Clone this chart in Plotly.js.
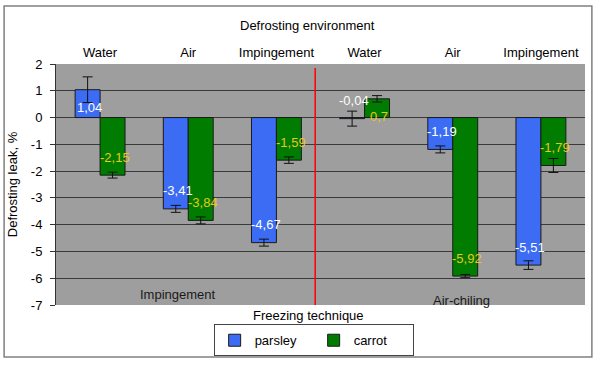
<!DOCTYPE html>
<html><head><meta charset="utf-8">
<script src="https://cdn.plot.ly/plotly-3.0.1.min.js"></script>
<style>html,body{margin:0;padding:0;background:#fff}#c{width:600px;height:366px}</style>
</head><body><div id="c"></div>
<script>
var categories = ["Water", "Air", "Impingement", "Water", "Air", "Impingement"];
var positions = [0, 1, 2, 3, 4, 5];
var parsley = [1.04, -3.41, -4.67, -0.04, -1.19, -5.51];
var carrot = [-2.15, -3.84, -1.59, 0.7, -5.92, -1.79];
var parsleyErr = [0.48, 0.13, 0.13, 0.28, 0.13, 0.16];
var carrotErr = [0.11, 0.13, 0.12, 0.12, 0.06, 0.26];
var yTicks = [2, 1, 0, -1, -2, -3, -4, -5, -6, -7];
var freezingGroups = ["Impingement", "Air-chiling"];

var bargap = 0.434;
var half = (1 - bargap) / 4;

function fmt(v){ return String(v).replace('.', ','); }

var traces = [
  {type:'bar', name:'parsley', x:positions, y:parsley,
   marker:{color:'#3c6cf4', line:{color:'#1a1a1a', width:1}},
   error_y:{type:'data', array:parsleyErr, visible:true, color:'#111', thickness:1, width:5},
   hoverinfo:'none'},
  {type:'bar', name:'carrot', x:positions, y:carrot,
   marker:{color:'#007c00', line:{color:'#1a1a1a', width:1}},
   error_y:{type:'data', array:carrotErr, visible:true, color:'#111', thickness:1, width:5},
   hoverinfo:'none'}
];

var annotations = [];
function addLabels(vals, off, color){
  vals.forEach(function(v,i){
    annotations.push({x:positions[i]+off, y:v, xref:'x', yref:'y', text:fmt(v),
      showarrow:false, xshift:2, yshift: v < 0 ? 18 : -18,
      font:{family:'Liberation Sans, Arial', size:13, color:color}});
  });
}
addLabels(parsley, -half, '#ffffff');
addLabels(carrot, half, '#e8c81a');

annotations.push({xref:'paper', yref:'paper', x:0.475, y:1.2, text:'Defrosting environment', showarrow:false,
  font:{family:'Liberation Sans, Arial', size:13, color:'#000'}});
annotations.push({xref:'paper', yref:'paper', x:0.477, y:-0.003, yanchor:'top', text:'Freezing technique', showarrow:false,
  font:{family:'Liberation Sans, Arial', size:13, color:'#000'}});
annotations.push({xref:'x', yref:'y', x:1, y:-6.6, text:freezingGroups[0], showarrow:false, xshift:-10,
  font:{family:'Liberation Sans, Arial', size:13, color:'#1a1a1a'}});
annotations.push({xref:'x', yref:'y', x:4, y:-6.85, text:freezingGroups[1], showarrow:false, xshift:9,
  font:{family:'Liberation Sans, Arial', size:13, color:'#1a1a1a'}});

var layout = {
  width:600, height:366,
  margin:{l:56, r:15, t:64, b:61, autoexpand:false},
  paper_bgcolor:'#ffffff', plot_bgcolor:'#9e9e9e',
  barmode:'group', bargap:bargap, bargroupgap:0,
  font:{family:'Liberation Sans, Arial', size:13, color:'#000'},
  showlegend:true,
  legend:{orientation:'h', x:0.298, xanchor:'left', y:-0.08, yanchor:'top',
    bordercolor:'#444', borderwidth:1, bgcolor:'#fff', entrywidth:54, itemwidth:30,
    font:{family:'Liberation Sans, Arial', size:13, color:'#000'}},
  xaxis:{side:'top', tickmode:'array', tickvals:positions, ticktext:categories,
    range:[-0.5, 5.5], showgrid:false, zeroline:false, showline:false, ticks:'',
    ticklabelstandoff:3,
    tickfont:{family:'Liberation Sans, Arial', size:13, color:'#000'}, fixedrange:true},
  yaxis:{range:[-7, 2], tickmode:'array', tickvals:yTicks, ticktext:yTicks.map(String),
    showgrid:true, gridcolor:'#3a3a3a', gridwidth:1, zeroline:false,
    showline:true, linecolor:'#333', linewidth:1, ticks:'outside', ticklen:5, tickcolor:'#333',
    ticklabelstandoff:5,
    tickfont:{family:'Liberation Sans, Arial', size:13, color:'#000'},
    title:{text:'Defrosting leak, %', standoff:10, font:{family:'Liberation Sans, Arial', size:13, color:'#000'}},
    fixedrange:true},
  annotations:annotations,
  shapes:[
    {type:'line', xref:'x', yref:'y', x0:2.44, x1:2.44, y0:-7, y1:1.85, line:{color:'#ff0000', width:1.5}},
    {type:'rect', xref:'paper', yref:'paper', x0:-0.0981, x1:1.013, y0:-0.2158, y1:1.2407,
      line:{color:'#808080', width:1.5}, layer:'below'}
  ]
};

Plotly.newPlot('c', traces, layout, {staticPlot:true, displayModeBar:false});
</script></body></html>
